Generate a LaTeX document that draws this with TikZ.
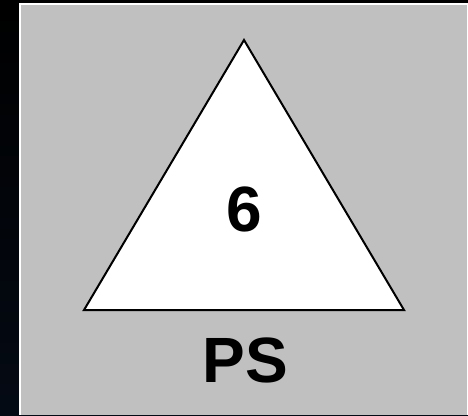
\documentclass[tikz,border=0pt]{standalone}
\usepackage{fontspec}
\setmainfont{Liberation Sans}
\definecolor{panelgray}{RGB}{192,192,192}
\definecolor{navy}{RGB}{4,10,20}
\begin{document}
\begin{tikzpicture}[x=1pt,y=-1pt,
  label/.style={font=\fontsize{64}{64}\selectfont\bfseries, text=black, inner sep=0pt, anchor=center},
  tri/.style={draw=black, fill=white, line width=2pt, line join=miter}]
\useasboundingbox (0,0) rectangle (468,415);
\shade[top color=black, bottom color=navy] (0,0) rectangle (468,415);
\fill[white] (19,3.3) rectangle (468,415);
\fill[panelgray] (21,5.3) rectangle (466.5,415);
\coordinate (apex) at (244,40);
\coordinate (bl) at (84,310);
\coordinate (br) at (404,310);
\draw[tri] (apex) -- (bl) -- (br) -- cycle;
\node[label] (six) at (244,209) {6};
\node[label] (ps) at (245,360) {PS};
\end{tikzpicture}
\end{document}
